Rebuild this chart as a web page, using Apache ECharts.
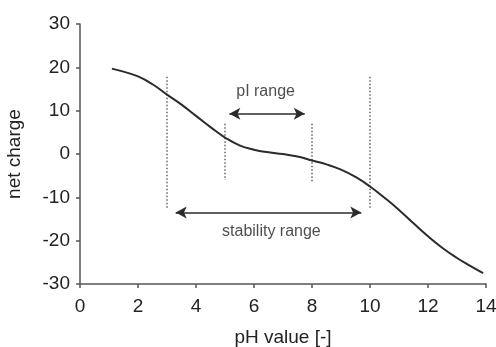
<!DOCTYPE html>
<html>
<head>
<meta charset="utf-8">
<script src="https://cdn.jsdelivr.net/npm/echarts@6/dist/echarts.min.js"></script>
<style>html,body{margin:0;padding:0;background:#fff;}#c{width:496px;height:347px;}</style>
</head>
<body>
<div id="c"></div>
<script>
const phValues  = [1.1, 1.5, 2.0, 2.5, 3.0, 3.5, 4.0, 4.5, 5.0, 5.5, 6.0, 6.5, 7.0, 7.5, 8.0, 8.5, 9.0, 9.5, 10.0, 10.5, 11.0, 11.5, 12.0, 12.5, 13.0, 13.5, 13.9];
const netCharge = [19.7, 19.0, 17.9, 16.1, 13.7, 11.4, 8.8, 6.2, 3.8, 2.0, 1.0, 0.4, 0.0, -0.6, -1.5, -2.4, -3.6, -5.3, -7.5, -10.1, -12.9, -16.0, -19.0, -21.7, -24.0, -26.0, -27.5];
// dotted guides: [pH, top, bottom]
const guides = [[3, 17.8, -12.6], [5, 7.0, -6.0], [8, 7.0, -6.3], [10, 17.8, -12.6]];
// arrows: [fromPH, toPH, charge]
const arrows = [[5.15, 7.75, 9.3], [3.3, 9.7, -13.5]];
// labels: [pH, charge, text]
const labels = [[6.4, 14.3, 'pI range'], [6.6, -17.9, 'stability range']];
const xTicks = {min: 0, max: 14, interval: 2};
const yTicks = {min: -30, max: 30, interval: 10};

const FONT = 'Liberation Sans, Arial, sans-serif';
const chart = echarts.init(document.getElementById('c'), null, {renderer: 'canvas'});

const series = [];
series.push({
  type: 'line', smooth: 0.5, showSymbol: false, symbol: 'none',
  data: phValues.map((x, i) => [x, netCharge[i]]),
  lineStyle: {color: '#2b2b2b', width: 2}, z: 5, silent: true
});
guides.forEach(g => {
  series.push({
    type: 'line', symbol: 'none', silent: true,
    data: [[g[0], g[1]], [g[0], g[2]]],
    lineStyle: {color: '#666', width: 1.5, type: [1.5, 2]}
  });
});
arrows.forEach(a => {
  series.push({
    type: 'line', symbol: 'none', silent: true, data: [],
    markLine: {
      silent: true, symbol: ['arrow', 'arrow'], symbolSize: [9, 11],
      label: {show: false},
      lineStyle: {color: '#2b2b2b', width: 1.5, type: 'solid'},
      data: [[{coord: [a[0], a[2]]}, {coord: [a[1], a[2]]}]]
    }
  });
});
series.push({
  type: 'scatter', symbolSize: 0, silent: true,
  data: labels.map(l => ({value: [l[0], l[1]], name: l[2]})),
  label: {show: true, position: 'inside', formatter: p => p.name, color: '#222', fontSize: 16, fontFamily: FONT}
});

chart.setOption({
  animation: false,
  grid: {left: 80, right: 10, top: 24, bottom: 63, containLabel: false, outerBoundsMode: 'none'},
  xAxis: {
    type: 'value', min: xTicks.min, max: xTicks.max, interval: xTicks.interval,
    name: 'pH value [-]', nameLocation: 'middle', nameGap: 44,
    nameTextStyle: {fontSize: 19, color: '#222', fontFamily: FONT},
    axisLine: {show: true, onZero: false, lineStyle: {color: '#555', width: 1.5}},
    axisTick: {show: true, length: 4, lineStyle: {color: '#555', width: 1.5}},
    axisLabel: {fontSize: 19, color: '#222', margin: 13, fontFamily: FONT},
    splitLine: {show: false}
  },
  yAxis: {
    type: 'value', min: yTicks.min, max: yTicks.max, interval: yTicks.interval,
    name: 'net charge', nameLocation: 'middle', nameGap: 56,
    nameTextStyle: {fontSize: 19, color: '#222', fontFamily: FONT},
    axisLine: {show: true, lineStyle: {color: '#555', width: 1.5}},
    axisTick: {show: true, length: 4, lineStyle: {color: '#555', width: 1.5}},
    axisLabel: {fontSize: 19, color: '#222', margin: 10, fontFamily: FONT},
    splitLine: {show: false}
  },
  series: series
});
</script>
</body>
</html>
